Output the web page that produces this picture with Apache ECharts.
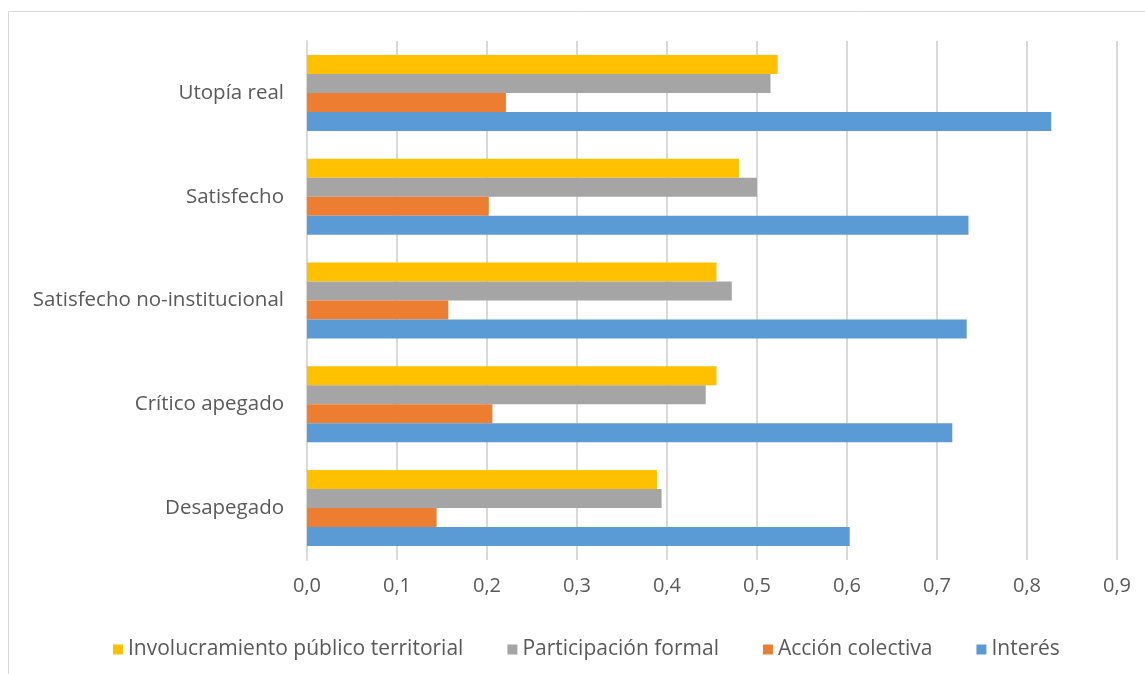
<!DOCTYPE html>
<html>
<head>
<meta charset="utf-8">
<script src="https://cdn.jsdelivr.net/npm/echarts@6/dist/echarts.min.js"></script>
<style>
  html, body { margin: 0; padding: 0; background: #fff; }
  #chart { width: 1145px; height: 674px; }
</style>
</head>
<body>
<div id="chart"></div>
<script>
// categories, bottom to top as ECharts lays them out
const categories = ['Desapegado', 'Crítico apegado', 'Satisfecho no-institucional', 'Satisfecho', 'Utopía real'];

const interes = [0.603, 0.717, 0.733, 0.735, 0.827];
const accionColectiva = [0.144, 0.206, 0.157, 0.202, 0.221];
const participacionFormal = [0.394, 0.443, 0.472, 0.500, 0.515];
const involucramiento = [0.389, 0.455, 0.455, 0.480, 0.523];

const legendOrder = ['Involucramiento público territorial', 'Participación formal', 'Acción colectiva', 'Interés'];

const font = 'Open Sans, Noto Sans, sans-serif';
const textColor = '#595959';

var chartDom = document.getElementById('chart');
var myChart = echarts.init(chartDom);

const makeBar = (name, data, color) => ({
    name: name,
    type: 'bar',
    data: data,
    barWidth: 19,
    barGap: '0%',
    itemStyle: { color: color },
    emphasis: { disabled: true }
});

var option = {
    animation: false,
    textStyle: { fontFamily: font },
    grid: {
        left: 307,
        right: 28,
        top: 41,
        bottom: 114
    },
    legend: {
        data: legendOrder,
        left: 108,
        top: 634,
        itemWidth: 10,
        itemHeight: 10,
        itemGap: 44,
        icon: 'rect',
        textStyle: { fontSize: 21, color: textColor, fontFamily: font }
    },
    xAxis: {
        type: 'value',
        min: 0,
        max: 0.9,
        interval: 0.1,
        axisLine: { show: false },
        axisTick: { show: false },
        axisLabel: {
            fontSize: 20,
            color: textColor,
            margin: 16,
            formatter: v => v.toFixed(1).replace('.', ',')
        },
        splitLine: { lineStyle: { color: '#d9d9d9', width: 2 } }
    },
    yAxis: {
        type: 'category',
        data: categories,
        axisLine: { lineStyle: { color: '#d9d9d9', width: 2 } },
        axisTick: { show: false },
        axisLabel: { fontSize: 20.5, color: textColor, margin: 23 }
    },
    graphic: [{
        type: 'rect',
        shape: { x: 8.5, y: 11.5, width: 1200, height: 700 },
        style: { fill: 'none', stroke: '#d9d9d9', lineWidth: 1 },
        silent: true
    }],
    // first series is drawn at the top of each group
    series: [
        makeBar('Involucramiento público territorial', involucramiento, '#FFC000'),
        makeBar('Participación formal', participacionFormal, '#A5A5A5'),
        makeBar('Acción colectiva', accionColectiva, '#ED7D31'),
        makeBar('Interés', interes, '#5B9BD5')
    ]
};

myChart.setOption(option);
</script>
</body>
</html>
